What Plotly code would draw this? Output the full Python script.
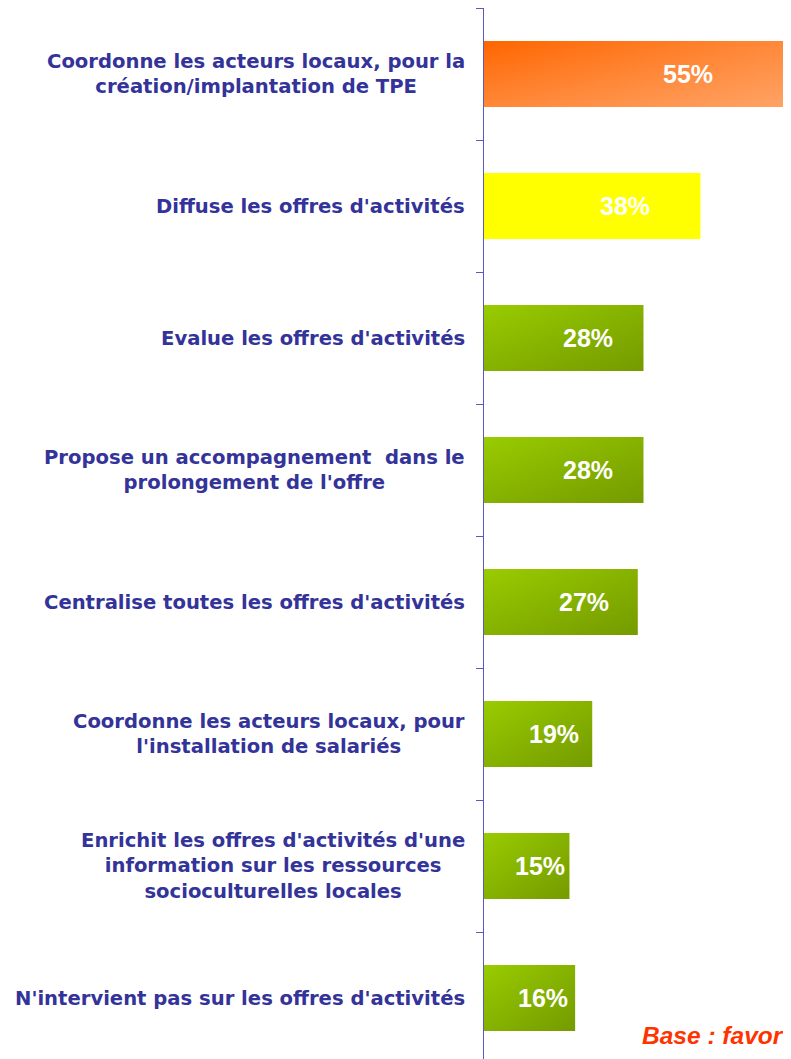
import plotly.graph_objects as go

categories = [
    "Coordonne les acteurs locaux, pour la<br>création/implantation de TPE",
    "Diffuse les offres d'activités",
    "Evalue les offres d'activités",
    "Propose un accompagnement  dans le<br>prolongement de l'offre",
    "Centralise toutes les offres d'activités",
    "Coordonne les acteurs locaux, pour<br>l'installation de salariés",
    "Enrichit les offres d'activités d'une<br>information sur les ressources<br>socioculturelles locales",
    "N'intervient pas sur les offres d'activités",
]
values = [55, 38, 28, 28, 27, 19, 15, 16]
value_labels = ["55%", "38%", "28%", "28%", "27%", "19%", "15%", "16%"]
bar_styles = ["orange", "yellow", "green", "green", "green", "green", "green", "green"]
base_note = "Base : favor"

# page body has an 8px margin: figure is drawn from (8, 8)
OFF = 8
W, H = 791 - OFF, 1059 - OFF
BAND = 132
n = len(categories)
y_bottom = H / BAND - 0.5
AXIS_X = 484 - OFF
PLOT_W = W - AXIS_X
X_MAX = 53.9 * PLOT_W / 307

gradients = {
    "orange": (["#FF6600", "#FF8A3C"], "rgba(255,255,255,0)", "rgba(255,255,255,0.22)"),
    "yellow": (["#FFFF00", "#FFFF00"], "rgba(255,255,255,0)", "rgba(255,255,255,0)"),
    "green": (["#99CC00", "#86B200"], "rgba(0,0,0,0)", "rgba(0,0,0,0.13)"),
}

fig = go.Figure()
half = 0.25
for i, (v, st) in enumerate(zip(values, bar_styles)):
    xs = [0, v, v, 0, 0]
    ys = [i - half, i - half, i + half, i + half, i - half]
    hcols, vtop, vbot = gradients[st]
    fig.add_trace(go.Scatter(
        x=xs, y=ys, mode="lines", fill="toself", line=dict(width=0),
        fillgradient=dict(type="horizontal", colorscale=[[0, hcols[0]], [1, hcols[1]]]),
        hoverinfo="skip", showlegend=False))
    fig.add_trace(go.Scatter(
        x=xs, y=ys, mode="lines", fill="toself", line=dict(width=0),
        fillgradient=dict(type="vertical", colorscale=[[0, vbot], [1, vtop]]),
        hoverinfo="skip", showlegend=False))

annotations = []
for i, (cat, v, lab) in enumerate(zip(categories, values, value_labels)):
    annotations.append(dict(
        x=0, xref="paper", y=i, yref="y", xanchor="right", yanchor="middle",
        xshift=-17, text=cat, align="center", showarrow=False,
        font=dict(family="DejaVu Sans", size=19.6, color="#333399", weight="bold")))
    annotations.append(dict(
        x=v * 0.65, xref="x", y=i, yref="y", xanchor="center", yanchor="middle",
        text=lab, showarrow=False,
        font=dict(family="Liberation Sans, Arial", size=25, color="white", weight="bold")))

annotations.append(dict(
    x=(640 - 484) / PLOT_W, xref="paper", y=7, yref="y",
    xanchor="left", yanchor="middle", yshift=-37, text=base_note, showarrow=False,
    font=dict(family="Liberation Sans, Arial", size=24.5, color="#FF3300",
              weight="bold", style="italic")))

fig.update_layout(
    width=W, height=H,
    margin=dict(l=AXIS_X, r=0, t=0, b=0, pad=0),
    paper_bgcolor="white", plot_bgcolor="white",
    annotations=annotations,
    xaxis=dict(range=[0, X_MAX], visible=False, fixedrange=True),
    yaxis=dict(range=[y_bottom, -0.5], showgrid=False, zeroline=False,
               showline=True, linecolor="#5A5ABE", linewidth=1,
               tickmode="array", tickvals=[k - 0.5 for k in range(n + 1)],
               ticktext=[""] * (n + 1), ticks="outside", ticklen=7,
               tickcolor="#5A5ABE", tickwidth=1, showticklabels=False),
)

fig.write_html("out.html")
